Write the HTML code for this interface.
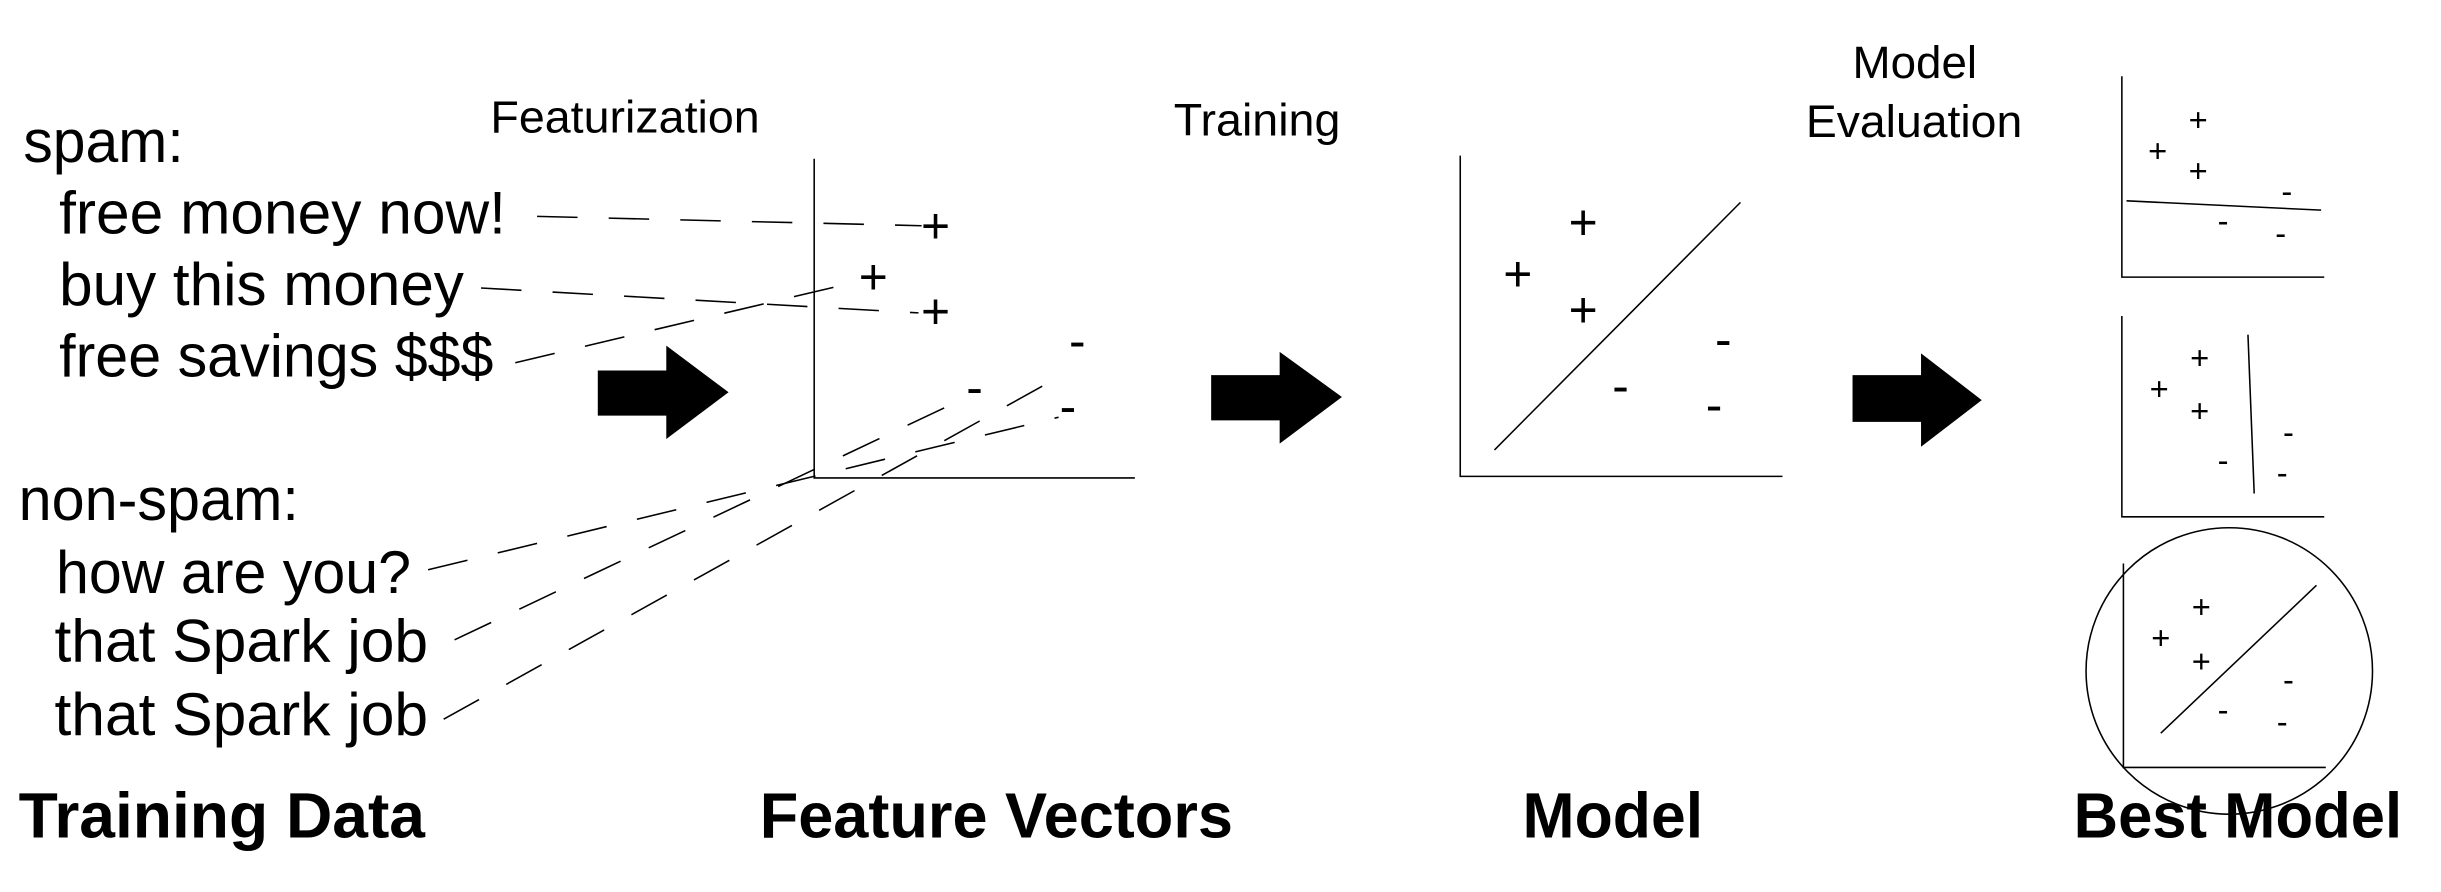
<!DOCTYPE html>
<html><head><meta charset="utf-8"><style>
html,body{margin:0;padding:0;background:#fff;}
svg{display:block;}
text{font-family:"Liberation Sans","DejaVu Sans",sans-serif;fill:#000;}
.b{font-weight:bold;font-size:41px;}
.t{font-size:39px;}
.s{font-size:29px;}
.p{font-size:32px;}
.q{font-size:21px;}
</style></head><body>
<svg width="2441" height="892" viewBox="0 0 1568 573" preserveAspectRatio="none" xmlns="http://www.w3.org/2000/svg">
<g class="t">
<text x="15" y="104" textLength="103" lengthAdjust="spacingAndGlyphs">spam:</text>
<text x="38" y="150" textLength="287" lengthAdjust="spacingAndGlyphs">free money now!</text>
<text x="38" y="196" textLength="260" lengthAdjust="spacingAndGlyphs">buy this money</text>
<text x="38" y="242" textLength="279" lengthAdjust="spacingAndGlyphs">free savings $$$</text>
<text x="12" y="334" textLength="180" lengthAdjust="spacingAndGlyphs">non-spam:</text>
<text x="36" y="381" textLength="228" lengthAdjust="spacingAndGlyphs">how are you?</text>
<text x="35" y="425" textLength="240" lengthAdjust="spacingAndGlyphs">that Spark job</text>
<text x="35" y="472" textLength="240" lengthAdjust="spacingAndGlyphs">that Spark job</text>
</g>
<g class="b">
<text x="12" y="538" textLength="261" lengthAdjust="spacingAndGlyphs">Training Data</text>
<text x="488" y="538" textLength="304" lengthAdjust="spacingAndGlyphs">Feature Vectors</text>
<text x="978" y="538" textLength="116" lengthAdjust="spacingAndGlyphs">Model</text>
<text x="1332" y="538" textLength="211" lengthAdjust="spacingAndGlyphs">Best Model</text>
</g>
<g class="s">
<text x="315" y="85" textLength="173" lengthAdjust="spacingAndGlyphs">Featurization</text>
<text x="754" y="87" textLength="107" lengthAdjust="spacingAndGlyphs">Training</text>
<text x="1190" y="50" textLength="80" lengthAdjust="spacingAndGlyphs">Model</text>
<text x="1160" y="88" textLength="139" lengthAdjust="spacingAndGlyphs">Evaluation</text>
</g>
<polygon points="384,238 428,238 428,222 468,252 428,282 428,267 384,267" fill="#000"/>
<polygon points="778,241 822,241 822,226 862,255 822,285 822,270 778,270" fill="#000"/>
<polygon points="1190,241 1234,241 1234,227 1273,257 1234,287 1234,271 1190,271" fill="#000"/>
<g stroke="#000" stroke-width="1" fill="none">
<polyline points="523,102 523,307 729,307"/>
<g stroke-dasharray="26,20">
<line x1="345" y1="139" x2="592" y2="145"/>
<line x1="309" y1="185" x2="590" y2="201"/>
<line x1="331" y1="233" x2="542" y2="183"/>
<line x1="275" y1="366" x2="680" y2="268"/>
<line x1="292" y1="411" x2="615" y2="258"/>
<line x1="285" y1="462" x2="684" y2="240"/>
</g>
<polyline points="938,100 938,306 1145,306"/>
<line x1="960" y1="289" x2="1118" y2="130"/>
<polyline points="1363,49 1363,178 1493,178"/>
<line x1="1366" y1="129" x2="1491" y2="135"/>
<polyline points="1363,203 1363,332 1493,332"/>
<line x1="1444" y1="215" x2="1448" y2="317"/>
<polyline points="1364,362 1364,493 1494,493"/>
<line x1="1388" y1="471" x2="1488" y2="376"/>
<circle cx="1432" cy="431" r="92"/>
</g>
<g class="p" text-anchor="middle">
<text x="601" y="156">+</text><text x="561" y="189">+</text><text x="601" y="211">+</text>
<text x="692" y="230">-</text><text x="626" y="260">-</text><text x="686" y="272">-</text>
<text x="1017" y="154">+</text><text x="975" y="187">+</text><text x="1017" y="210">+</text>
<text x="1107" y="229">-</text><text x="1041" y="259">-</text><text x="1101" y="271">-</text>
</g>
<g class="q" text-anchor="middle">
<text x="1412" y="84">+</text><text x="1386" y="104">+</text><text x="1412" y="117">+</text>
<text x="1469" y="130">-</text><text x="1428" y="149">-</text><text x="1465" y="157">-</text>
<text x="1413" y="237">+</text><text x="1387" y="257">+</text><text x="1413" y="271">+</text>
<text x="1470" y="285">-</text><text x="1428" y="303">-</text><text x="1466" y="311">-</text>
<text x="1414" y="397">+</text><text x="1388" y="417">+</text><text x="1414" y="432">+</text>
<text x="1470" y="444">-</text><text x="1428" y="463">-</text><text x="1466" y="471">-</text>
</g>
</svg>
</body></html>
